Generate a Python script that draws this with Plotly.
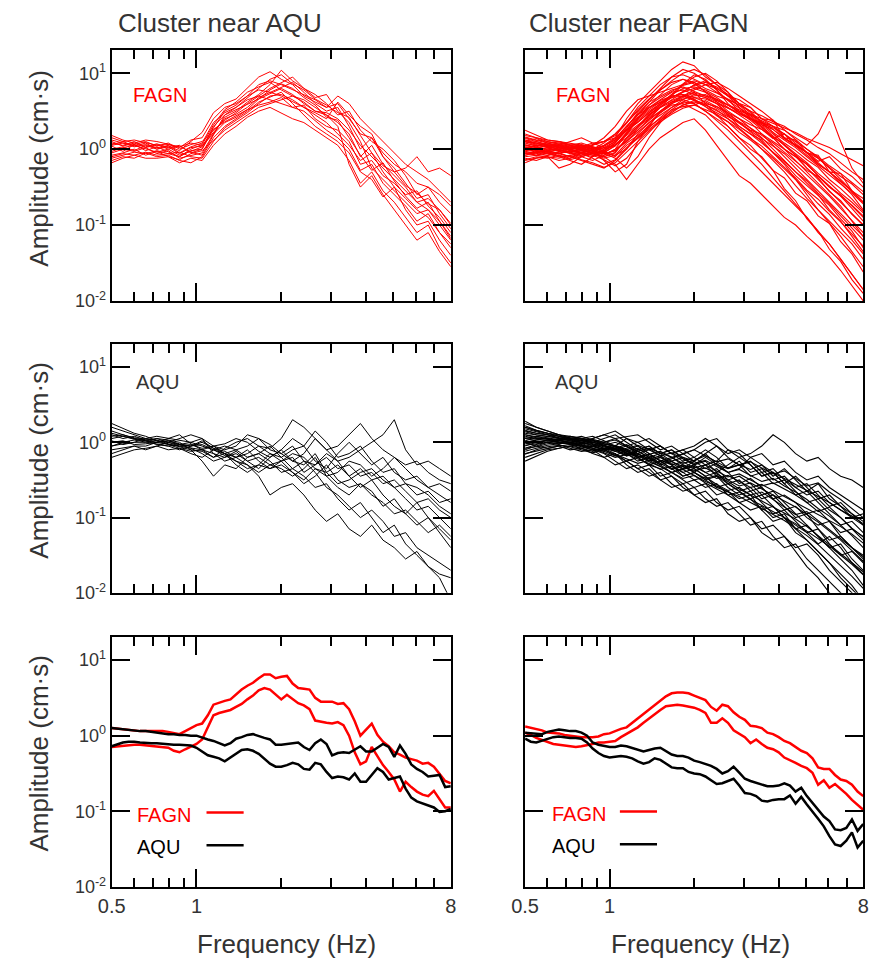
import math
import plotly.graph_objs as go

# frequency grid (Hz), log spaced 0.5 - 8
freq_fine = [0.500, 0.524, 0.548, 0.574, 0.601, 0.630, 0.660, 0.691, 0.723, 0.758,
             0.794, 0.831, 0.870, 0.912, 0.955, 1.000, 1.047, 1.097, 1.149, 1.203,
             1.260, 1.320, 1.382, 1.447, 1.516, 1.587, 1.663, 1.741, 1.824, 1.910,
             2.000, 2.095, 2.194, 2.297, 2.406, 2.520, 2.639, 2.764, 2.895, 3.031,
             3.175, 3.325, 3.482, 3.647, 3.820, 4.000, 4.190, 4.388, 4.595, 4.813,
             5.040, 5.278, 5.528, 5.790, 6.063, 6.350, 6.650, 6.965, 7.294, 7.639,
             8.000]
freq = freq_fine[::2]

# all amplitudes below are 100*log10(amplitude in cm.s)

# FAGN spectra, cluster near AQU
fagn_near_aqu = [
    [5, 8, 3, 6, 2, 4, -2, 10, 22, 48,  60, 66, 80, 95, 102, 92, 85, 70, 62, 55,  60, 40, 20, 15, -5, -20, -30, -45, -50, -60, -75],
    [-5, 0, -3, 2, -6, -2, -12, -8, -5, 20,  42, 50, 62, 72, 85, 104, 90, 80, 68, 72,  50, 35, 10, -25, -40, -55, -70, -85, -80, -100, -120],
    [15, 10, 12, 8, 5, 6, 2, 12, 15, 40,  55, 60, 70, 78, 75, 70, 62, 55, 48, 40,  62, 45, 30, 20, -10, -30, -25, -10, -30, -25, -35],
    [-15, -10, -12, -5, -10, -8, -15, -18, -10, 15,  30, 40, 50, 62, 68, 75, 60, 45, 30, 20,  10, -5, -30, -40, -63, -50, -80, -100, -95, -120, -140],
    [8, 5, 10, 3, 7, 2, 5, -5, 0, 30,  45, 52, 58, 65, 72, 80, 72, 60, 50, 45,  35, 20, -10, 5, -20, -35, -50, -70, -65, -80, -100],
    [-8, -5, 0, -8, -3, -10, -18, -12, -15, 5,  20, 30, 42, 50, 55, 48, 40, 35, 25, 15,  5, -15, -45, -30, -55, -70, -90, -110, -100, -130, -150],
    [0, 3, -2, 5, 0, 5, -5, 3, 8, 35,  48, 55, 65, 70, 80, 88, 95, 80, 72, 60,  45, 50, 25, 10, 0, -15, -35, -60, -50, -70, -85],
    [12, 8, 6, 10, 4, 8, 0, 6, 10, 25,  38, 48, 60, 70, 65, 60, 55, 58, 40, 30,  25, 10, -20, -15, -35, -45, -60, -55, -75, -90, -110],
    [-3, 2, 5, 0, -4, 0, -8, -3, 3, 28,  50, 58, 70, 85, 90, 85, 78, 72, 65, 55,  70, 60, 40, 25, 10, -5, -20, -30, -40, -55, -70],
    [18, 12, 8, 12, 10, 6, 3, 8, 5, 20,  35, 42, 52, 58, 62, 68, 55, 50, 38, 25,  15, 0, -28, -20, -45, -60, -75, -95, -85, -110, -130],
    [-18, -12, -8, -12, -12, -10, -14, -6, -2, 12,  25, 35, 45, 55, 60, 65, 70, 65, 55, 45,  30, -20, -50, -35, -60, -80, -100, -120, -110, -135, -155],
    [4, -3, 6, -2, 3, -4, -10, 0, 6, 32,  52, 62, 75, 82, 88, 78, 70, 62, 50, 48,  40, 25, 5, -10, -25, -40, -55, -70, -80, -95, -115],
    [-10, -6, -8, -4, -8, -6, -4, -10, -12, 10,  28, 38, 48, 60, 70, 72, 65, 55, 45, 35,  20, 5, -15, -5, -30, -50, -65, -80, -90, -110, -125],
    [6, 10, 4, 8, 0, 3, -6, 2, 4, 22,  40, 46, 55, 68, 75, 82, 88, 75, 60, 50,  55, 30, 0, 15, -10, -25, -45, -65, -60, -85, -105],
    [10, 4, 8, 2, 6, 0, 4, -4, -8, 18,  45, 55, 68, 80, 92, 98, 86, 78, 66, 58,  48, 42, 18, -5, -22, -30, -48, -58, -72, -80, -98],
    [-12, -8, -4, -6, -2, -6, -10, -2, 0, 26,  36, 44, 52, 66, 78, 86, 80, 68, 58, 42,  38, 15, -8, -28, -18, -42, -62, -78, -70, -95, -118],
]

# AQU spectra, cluster near AQU
aqu_near_aqu = [
    [20, 15, 10, 5, 2, 0, -5, -8, -10, -15,  -20, -12, -25, -20, -30, -25, -15, -20, -35, -40,  -30, -45, -35, -50, -45, -60, -55, -70, -65, -80, -75],
    [-5, -2, 0, 0, 5, 3, 0, -10, -25, -45,  -30, -35, -20, -15, -25, -40, -35, -45, -60, -55,  -75, -90, -80, -100, -120, -110, -135, -150, -165, -180, -210],
    [5, 8, 5, 3, 0, 2, -3, 0, 5, -5,  -10, -5, 10, 5, -10, -15, -5, -25, -30, -20,  -35, -30, -45, -40, -55, -50, -65, -80, -75, -90, -100],
    [-20, -15, -10, -8, -5, -10, -8, -15, -20, -10,  -15, -25, -30, -45, -70, -60, -55, -70, -90, -105,  -95, -115, -125, -110, -130, -140, -155, -145, -165, -175, -180],
    [10, 5, 8, 3, 5, 0, -3, -5, 2, -8,  -12, -20, -15, -5, -8, 5, 30, 20, 5, -10,  -5, 10, 25, 5, -10, -20, -30, -25, -40, -50, -55],
    [0, 2, -3, -2, 0, 5, 10, -2, -10, -20,  -15, -30, -40, -30, -35, -25, -20, -40, -30, -15,  -25, -45, -60, -50, -70, -85, -95, -80, -100, -115, -130],
    [15, 10, 5, 2, 0, -2, -5, -3, -8, -5,  -2, 5, 0, -12, -20, -10, 5, -5, -25, -35,  -15, 0, -15, -30, -20, -40, -50, -45, -60, -55, -65],
    [-10, -8, -5, -10, -5, 0, 5, 10, 5, -15,  -25, -20, -10, -25, -35, -30, -40, -55, -45, -30,  -50, -60, -55, -70, -80, -95, -90, -105, -120, -110, -125],
    [8, 10, 6, 4, 3, -2, -6, -10, -12, -20,  -8, 0, 5, -5, -15, -20, -10, -5, 15, 0,  -20, -15, -5, -25, -40, -35, -55, -60, -70, -85, -95],
    [-5, 0, 3, 0, -2, -5, -3, -8, -15, -25,  -20, -15, -25, -35, -20, -10, -25, -30, -15, -40,  -55, -50, -40, -35, -50, -60, -75, -90, -85, -100, -115],
    [25, 18, 12, 8, 2, -3, -8, -12, -10, -5,  -15, -10, -20, -15, -5, -20, -35, -25, -40, -60,  -70, -85, -100, -90, -105, -125, -120, -140, -150, -160, -170],
    [2, -3, 0, 5, 8, 5, 2, 0, -5, -10,  -5, -10, -5, 5, -3, -15, -25, -15, 5, -10,  -25, -20, -10, 0, 10, 30, -10, -30, -25, -35, -45],
    [-15, -10, -5, -5, 0, 2, -2, -5, -3, -10,  -18, -25, -35, -30, -15, -25, -40, -50, -35, -45,  -40, -25, -30, -45, -35, -20, -35, -50, -60, -70, -80],
    [12, 8, 4, 2, -3, -5, -10, -5, 0, -8,  -15, -20, -30, -40, -30, -35, -45, -35, -20, -45,  -60, -70, -55, -65, -85, -75, -95, -110, -100, -120, -140],
]

# FAGN spectra, cluster near FAGN
fagn_near_fagn = [
    [10, 5, 3, 0, 2, 5, 0, 8, 20, 35,  50, 65, 80, 95, 105, 100, 90, 80, 70, 60,  55, 40, 38, 15, 12, -5, -8, -30, -32, -55, -65],
    [-5, -8, -10, -12, -8, -5, -2, -15, -30, -20,  10, 30, 50, 62, 70, 75, 60, 45, 30, 15,  0, -10, -28, -38, -58, -68, -88, -98, -122, -138, -162],
    [20, 15, 10, 8, 5, 3, 0, 5, 15, 40,  60, 75, 90, 105, 115, 110, 95, 85, 75, 60,  50, 35, 22, 5, -8, -25, -38, -56, -68, -86, -100],
    [0, -3, -5, -10, -15, -20, -10, 0, 10, 25,  40, 55, 65, 75, 78, 72, 68, 60, 45, 30,  20, 12, -5, -18, -35, -48, -62, -74, -92, -108, -130],
    [-12, -15, -10, -25, -20, -10, -5, -10, -5, 15,  30, 45, 55, 62, 65, 60, 50, 40, 30, 15,  5, -12, -28, -52, -68, -92, -108, -132, -148, -172, -190],
    [8, 10, 5, 5, 0, -5, 5, 15, 30, 50,  65, 70, 75, 80, 85, 90, 85, 80, 70, 65,  55, 40, 30, 15, 5, -5, -20, -30, -45, -60, -80],
    [15, 12, 8, 3, 0, 2, -3, -8, 0, 10,  25, 40, 55, 70, 85, 95, 100, 90, 75, 55,  40, 30, 15, 0, -15, -30, -45, -60, -75, -95, -115],
    [-8, -5, 0, 5, 3, 0, -5, -10, -20, -40,  -20, 0, 15, 25, 35, 40, 25, 5, -15, -35,  -45, -60, -75, -90, -100, -115, -128, -142, -160, -180, -200],
    [5, 2, 0, -2, 0, 3, 8, 10, 15, 25,  35, 48, 60, 72, 80, 82, 78, 70, 65, 58,  45, 38, 30, 25, 15, 5, 20, 50, 10, -25, -45],
    [25, 18, 12, 10, 8, 5, 3, 0, 5, 20,  40, 58, 72, 85, 92, 88, 75, 62, 50, 40,  28, 15, 0, -15, -30, -45, -60, -80, -95, -115, -135],
    [-15, -12, -8, -5, -10, -15, -20, -25, -15, 0,  20, 35, 48, 58, 60, 52, 45, 30, 15, 0,  -15, -30, -45, -60, -75, -90, -110, -125, -145, -165, -185],
    [3, 0, -3, -5, -3, 0, 5, 10, 20, 35,  55, 70, 85, 95, 98, 92, 85, 75, 65, 50,  40, 28, 15, 0, -10, -20, -35, -50, -60, -75, -90],
    [10, 8, 4, 2, -2, -5, -8, -5, 5, 15,  25, 38, 50, 60, 70, 78, 85, 88, 80, 70,  60, 50, 38, 25, 12, 0, -12, -25, -40, -55, -70],
    [-10, -8, -5, -8, -12, -8, -3, 5, 12, 30,  45, 55, 62, 68, 70, 65, 58, 50, 42, 35,  25, 20, 10, 0, -10, -25, -40, -55, -70, -85, -100],
    [12, 8, 5, 8, 5, 8, 3, -3, -10, 5,  15, 28, 42, 55, 65, 72, 68, 60, 48, 35,  22, 10, -5, -20, -40, -60, -80, -95, -110, -125, -145],
    [-3, -5, -8, -3, -5, -10, -15, -8, 0, 20,  38, 50, 60, 68, 75, 80, 75, 65, 55, 45,  35, 20, 5, -10, -25, -40, -55, -70, -85, -100, -115],
    [18, 15, 12, 10, 5, 0, -5, -3, 8, 25,  45, 62, 78, 90, 100, 105, 98, 85, 70, 55,  42, 30, 18, 5, -8, -20, -35, -48, -62, -78, -95],
    [-6, -4, -2, 0, 2, 0, -2, -6, -2, 10,  22, 35, 45, 55, 62, 60, 50, 38, 25, 10,  -5, -20, -38, -55, -72, -90, -108, -125, -145, -165, -185],
    [2, 5, 8, 5, 10, 15, 8, 2, 5, 20,  32, 42, 55, 65, 75, 85, 90, 78, 60, 48,  40, 35, 30, 20, 8, -5, -18, -30, -42, -55, -70],
    [-18, -12, -10, -15, -12, -5, 0, -5, -12, -25,  -10, 15, 35, 50, 58, 62, 58, 52, 40, 28,  15, 0, -15, -30, -48, -65, -80, -98, -115, -135, -155],
    [6, 2, 4, 0, -4, -2, 2, -2, 8, 28,  48, 62, 70, 78, 82, 76, 70, 66, 58, 52,  44, 32, 20, 8, -2, -14, -24, -40, -52, -66, -82],
    [14, 10, 6, 4, 2, -2, -6, -12, -8, 8,  18, 30, 40, 52, 56, 58, 52, 46, 36, 26,  14, 4, -10, -24, -38, -54, -66, -82, -96, -112, -128],
    [0, 4, -2, 2, -4, 0, -6, -2, 6, 18,  30, 40, 50, 60, 66, 70, 72, 64, 58, 50,  46, 40, 34, 28, 22, 14, 8, 2, -6, -14, -22],
    [-4, -8, -2, -6, -10, -6, -12, -20, -14, 2,  14, 26, 38, 48, 58, 64, 60, 56, 48, 40,  32, 26, 14, 20, 4, -4, -16, -10, -26, -36, -50],
    [8, 4, 6, 2, 0, -4, -2, 4, 14, 30,  46, 58, 68, 76, 84, 88, 80, 74, 66, 58,  50, 44, 36, 30, 20, 12, 2, -6, -18, -30, -40],
    [-8, -4, -6, -10, -8, -14, -18, -24, -18, -4,  10, 24, 36, 46, 54, 58, 64, 56, 46, 36,  28, 18, 8, -4, -16, -28, -36, -50, -62, -74, -88],
    [16, 12, 10, 6, 4, 2, -2, -6, -2, 12,  28, 44, 58, 72, 86, 98, 92, 78, 64, 54,  46, 34, 22, 12, 2, -10, -22, -34, -46, -58, -72],
    [-2, 0, -4, -6, -2, -6, -10, -4, 4, 22,  40, 52, 62, 70, 72, 68, 62, 54, 44, 34,  24, 14, 4, -6, -20, -34, -48, -62, -78, -94, -110],
    [4, 8, 4, 6, 2, 6, 2, -4, -8, 0,  16, 32, 48, 60, 68, 74, 70, 62, 54, 46,  40, 32, 26, 14, 6, -4, -12, -24, -36, -46, -60],
    [-14, -10, -12, -8, -14, -10, -6, -10, -4, 14,  30, 46, 56, 64, 70, 64, 56, 44, 36, 22,  12, 0, -12, -26, -40, -56, -72, -86, -104, -120, -138],
    [12, 6, 2, 4, 0, 2, 6, 10, 18, 34,  52, 66, 78, 88, 92, 86, 76, 68, 58, 48,  38, 26, 16, 6, -6, -18, -32, -44, -58, -70, -84],
    [2, -2, -4, 0, -6, -4, -8, -14, -22, -12,  6, 22, 38, 52, 62, 68, 66, 60, 54, 48,  40, 34, 28, 20, 10, 0, -10, -22, -32, -44, -56],
    [-6, -2, 2, -2, -4, -8, -4, 2, 10, 26,  42, 54, 64, 70, 72, 66, 56, 48, 40, 30,  20, 8, -4, -16, -30, -42, -58, -72, -88, -104, -120],
    [10, 14, 8, 10, 6, 4, 0, 4, 12, 24,  36, 48, 58, 68, 76, 84, 88, 82, 72, 60,  48, 36, 26, 14, 4, -8, -20, -30, -42, -56, -70],
]

# AQU spectra, cluster near FAGN
aqu_near_fagn = [
    [25, 20, 15, 10, 5, 3, 0, 5, 10, 0,  -10, -5, -15, -10, -20, -25, -15, -30, -35, -25,  -40, -35, -50, -45, -60, -70, -65, -80, -90, -100, -110],
    [-10, -5, 0, -3, -8, -12, -10, -20, -30, -25,  -35, -45, -40, -55, -65, -60, -75, -85, -80, -95,  -110, -105, -125, -140, -135, -155, -170, -185, -200, -215, -230],
    [10, 8, 5, 2, 0, -2, 5, 10, 15, 5,  0, -10, -5, -15, -25, -20, -10, -20, -35, -30,  -45, -40, -35, -50, -60, -55, -70, -85, -80, -95, -105],
    [0, 3, 5, 0, -3, -5, -8, -12, -18, -10,  -20, -30, -25, -35, -45, -40, -50, -45, -60, -70,  -65, -80, -95, -90, -105, -120, -115, -135, -150, -145, -160],
    [20, 15, 12, 8, 5, 0, -5, -10, -8, -15,  -25, -20, -30, -40, -35, -25, -15, -5, -20, -30,  -25, -40, -55, -50, -65, -80, -75, -90, -100, -115, -125],
    [-20, -15, -10, -8, -5, -2, 0, -3, -5, -15,  -10, -5, -15, -25, -20, -30, -40, -35, -50, -45,  -55, -70, -65, -80, -95, -110, -125, -140, -155, -170, -190],
    [15, 12, 10, 5, 2, 0, 2, 0, 5, 8,  10, 0, -10, -5, -15, -10, 0, 5, -10, -20,  -15, -5, 10, 0, -15, -25, -20, -35, -45, -50, -60],
    [5, 2, 0, -2, 0, -5, -10, -15, -25, -35,  -30, -40, -50, -45, -60, -70, -65, -80, -90, -85,  -100, -115, -110, -125, -140, -135, -150, -170, -185, -200, -220],
    [-5, 0, 3, 5, 8, 5, 0, -5, -8, -3,  -12, -20, -15, -10, -22, -30, -25, -40, -30, -20,  -30, -45, -40, -55, -70, -65, -80, -95, -110, -105, -120],
    [28, 20, 15, 10, 8, 5, 3, -2, -5, -10,  -5, -15, -25, -20, -30, -35, -45, -40, -55, -65,  -60, -75, -70, -85, -100, -95, -115, -130, -125, -140, -155],
    [-15, -12, -8, -5, -3, -8, -15, -20, -15, -25,  -35, -30, -45, -40, -50, -60, -55, -70, -65, -80,  -90, -85, -100, -95, -115, -130, -145, -160, -175, -190, -210],
    [8, 5, 5, 3, 0, 3, 5, 10, 5, -5,  -15, -10, -5, -15, -10, -5, 5, -5, -15, -10,  -20, -15, -30, -25, -40, -50, -45, -60, -70, -80, -90],
    [0, -5, -8, -5, -10, -8, -5, 0, 3, -5,  -15, -25, -20, -30, -45, -40, -30, -45, -55, -50,  -65, -60, -75, -90, -85, -100, -110, -105, -125, -140, -150],
    [18, 14, 10, 6, 3, 0, -3, -8, -10, -18,  -15, -22, -30, -25, -35, -30, -20, -30, -40, -35,  -20, -30, -45, -35, -50, -65, -55, -75, -85, -95, -110],
    [-25, -18, -12, -8, -5, -8, -12, -8, -15, -30,  -40, -35, -50, -60, -55, -70, -80, -75, -95, -105,  -100, -120, -130, -125, -145, -165, -180, -200, -215, -230, -250],
    [12, 10, 8, 5, 3, 5, 8, 2, -5, -12,  -8, -18, -28, -22, -15, -25, -35, -28, -40, -55,  -48, -60, -75, -70, -80, -95, -90, -105, -120, -115, -130],
    [-8, -3, 0, 2, 0, -3, -8, -12, -5, 5,  -5, -15, -25, -35, -30, -40, -50, -60, -55, -65,  -75, -70, -85, -100, -115, -110, -125, -140, -135, -155, -170],
    [22, 16, 12, 8, 4, 2, -2, -6, -10, -5,  0, 5, -5, -15, -10, -20, -30, -25, -10, -15,  -30, -45, -40, -55, -45, -60, -75, -70, -85, -100, -95],
    [-2, 0, 2, 0, -2, 0, -4, -10, -18, -25,  -20, -30, -35, -45, -55, -50, -60, -55, -70, -80,  -75, -90, -85, -100, -110, -120, -135, -125, -140, -160, -175],
    [5, 8, 6, 3, 5, 8, 3, -5, -12, -18,  -12, -8, -18, -30, -40, -35, -45, -60, -65, -75,  -70, -90, -105, -100, -120, -130, -145, -160, -180, -195, -210],
    [14, 10, 8, 6, 4, 2, 0, -4, -8, -14,  -18, -24, -20, -28, -36, -32, -40, -48, -44, -52,  -60, -56, -64, -72, -80, -88, -96, -104, -112, -122, -134],
    [-12, -8, -4, -2, 0, -4, -8, -14, -20, -16,  -22, -28, -36, -32, -40, -50, -46, -56, -64, -60,  -70, -78, -86, -94, -102, -112, -124, -136, -148, -160, -172],
    [6, 4, 2, 4, 2, -2, -6, -4, 0, -6,  -12, -8, -14, -20, -16, -10, -18, -26, -22, -30,  -36, -30, -40, -48, -56, -64, -72, -80, -90, -98, -108],
    [20, 16, 12, 10, 6, 4, 2, -2, -6, -12,  -16, -22, -18, -26, -32, -38, -34, -42, -50, -58,  -54, -62, -70, -78, -86, -96, -106, -118, -130, -144, -158],
    [-4, -2, 0, 2, 4, 2, -2, -8, -12, -8,  -4, -10, -18, -14, -22, -28, -24, -32, -40, -36,  -44, -52, -48, -58, -66, -76, -88, -98, -110, -124, -140],
    [10, 6, 4, 0, -2, -6, -10, -8, -4, -10,  -18, -26, -32, -40, -36, -44, -52, -58, -66, -72,  -80, -88, -96, -104, -114, -124, -136, -150, -164, -178, -194],
    [-16, -10, -6, -4, -6, -10, -14, -10, -6, -12,  -20, -16, -24, -30, -26, -34, -30, -38, -46, -42,  -50, -58, -54, -62, -70, -80, -92, -86, -100, -114, -126],
    [2, 6, 4, 2, 0, 2, 4, 0, -6, -14,  -20, -16, -12, -20, -28, -24, -18, -26, -34, -30,  -26, -34, -42, -38, -48, -58, -54, -66, -76, -88, -100],
    [16, 12, 10, 8, 6, 4, 0, -4, -10, -16,  -12, -20, -28, -36, -32, -40, -48, -44, -52, -62,  -70, -66, -76, -86, -96, -92, -104, -116, -128, -140, -152],
    [-8, -6, -2, 0, -2, -4, -6, -10, -16, -22,  -28, -24, -32, -40, -48, -44, -54, -62, -70, -66,  -76, -84, -92, -100, -108, -118, -128, -138, -150, -162, -176],
]

# averaged spectra (two bounds each), cluster near AQU
avg_aqu_fagn_hi = [10, 9, 8, 7, 6, 6, 6, 6, 6, 6,  5, 3, 2, 6, 10, 14, 16, 27, 41, 44,
                   46, 48, 55, 61, 66, 70, 76, 81, 81, 76,  78, 79, 69, 63, 62, 61, 50, 45, 45, 45,
                   42, 43, 35, 19, 0, 8, 16, 1, -8, -14,  -22, -25, -29, -31, -33, -37, -36, -41, -50, -60,
                   -63]
avg_aqu_fagn_lo = [-15, -14, -13, -13, -12, -12, -13, -13, -14, -15,  -16, -20, -22, -18, -14, -11, -5, 10, 27, 30,
                   32, 34, 38, 42, 48, 53, 60, 63, 61, 54,  48, 54, 48, 43, 40, 35, 20, 18, 17, 16,
                   18, 14, 0, -22, -38, -34, -15, -27, -39, -48,  -58, -74, -61, -68, -74, -78, -80, -73, -84, -95,
                   -95]
avg_aqu_aqu_hi = [10, 9, 9, 8, 7, 6, 6, 5, 4, 3,  2, 2, 1, 1, 0, 0, -3, -5, -7, -10,
                  -13, -10, -4, -2, 1, 2, -1, -3, -5, -12,  -12, -11, -10, -9, -15, -19, -10, -5, -11, -26,
                  -23, -22, -23, -19, -14, -21, -21, -16, -11, -15,  -28, -13, -24, -38, -44, -48, -54, -53, -52, -68,
                  -67]
avg_aqu_aqu_lo = [-14, -11, -9, -8, -8, -9, -10, -10, -10, -11,  -11, -12, -12, -12, -13, -16, -21, -26, -28, -30,
                  -34, -29, -24, -19, -18, -20, -24, -30, -37, -41,  -41, -39, -36, -38, -44, -45, -36, -38, -48, -56,
                  -54, -55, -58, -50, -61, -61, -52, -43, -48, -58,  -56, -54, -70, -82, -87, -90, -92, -95, -101, -100,
                  -97]

# averaged spectra (two bounds each), cluster near FAGN
avg_fagn_fagn_hi = [12, 10, 8, 7, 4, 3, 3, 1, 0, -1,  -2, -2, -2, -1, 2, 3, 6, 9, 11, 17,
                    23, 29, 35, 41, 47, 52, 56, 57, 57, 56,  53, 50, 47, 38, 33, 41, 39, 31, 25, 21,
                    13, 12, 10, 4, 2, -2, -7, -10, -15, -20,  -23, -30, -42, -44, -44, -52, -58, -60, -65, -74,
                    -80]
avg_fagn_fagn_lo = [4, 1, -3, -6, -9, -11, -12, -13, -14, -15,  -14, -13, -11, -9, -9, -8, -7, -2, 2, 7,
                    11, 17, 23, 28, 34, 39, 40, 41, 40, 39,  37, 34, 30, 17, 17, 23, 17, 7, 2, -2,
                    -10, -5, -11, -16, -18, -22, -29, -32, -36, -40,  -43, -49, -65, -59, -69, -64, -70, -77, -85, -91,
                    -98]
avg_fagn_aqu_hi = [4, 3, 2, 2, 5, 7, 8, 7, 6, 6,  4, 0, -9, -12, -14, -15, -15, -13, -14, -16,
                   -19, -21, -19, -17, -16, -20, -25, -27, -27, -29,  -33, -35, -37, -40, -44, -50, -47, -41, -49, -57,
                   -60, -62, -64, -67, -67, -66, -63, -66, -74, -69,  -80, -89, -99, -107, -113, -124, -125, -122, -111, -126,
                   -117]
avg_fagn_aqu_lo = [-4, -8, -9, -7, -4, -2, -1, -2, -3, -3,  -4, -9, -17, -23, -27, -29, -28, -27, -28, -30,
                   -34, -37, -35, -30, -32, -37, -42, -43, -43, -48,  -50, -51, -54, -59, -64, -63, -60, -57, -66, -76,
                   -77, -80, -86, -87, -85, -84, -84, -79, -90, -81,  -91, -100, -110, -120, -133, -144, -146, -139, -128, -148,
                   -139]

RED = '#ff0000'
GREY = '#333333'
FONT = 'Arial, Liberation Sans, sans-serif'
W, H = 878, 976


def amp(vals):
    return [10 ** (v / 100) for v in vals]


def ax(n):
    return '' if n == 1 else str(n)


fig = go.Figure()

dense = [(1, fagn_near_aqu, RED, 1), (2, fagn_near_fagn, RED, 1.1),
         (3, aqu_near_aqu, 'black', 1), (4, aqu_near_fagn, 'black', 1.1)]
for n, curves, col, lw in dense:
    for c in curves:
        fig.add_trace(go.Scatter(x=freq, y=amp(c), mode='lines',
                                 line=dict(color=col, width=lw),
                                 xaxis='x' + ax(n), yaxis='y' + ax(n),
                                 showlegend=False, hoverinfo='skip'))

means = [(5, avg_aqu_fagn_hi, RED), (5, avg_aqu_fagn_lo, RED),
         (5, avg_aqu_aqu_hi, 'black'), (5, avg_aqu_aqu_lo, 'black'),
         (6, avg_fagn_fagn_hi, RED), (6, avg_fagn_fagn_lo, RED),
         (6, avg_fagn_aqu_hi, 'black'), (6, avg_fagn_aqu_lo, 'black')]
for n, c, col in means:
    fig.add_trace(go.Scatter(x=freq_fine, y=amp(c), mode='lines',
                             line=dict(color=col, width=2.5),
                             xaxis='x' + ax(n), yaxis='y' + ax(n),
                             showlegend=False, hoverinfo='skip'))

col_dom = [[100 / W, 447 / W], [523 / W, 869 / W]]
row_dom = [[1 - 304 / H, 1 - 51 / H], [1 - 599 / H, 1 - 348 / H], [1 - 896 / H, 1 - 644 / H]]

layout = dict(width=W, height=H, margin=dict(l=0, r=0, t=0, b=0),
              paper_bgcolor='white', plot_bgcolor='white', showlegend=False,
              font=dict(family=FONT, color=GREY))

for n in range(1, 7):
    row, col = (n - 1) // 2, (n - 1) % 2
    layout['xaxis' + ax(n)] = dict(
        type='log', range=[math.log10(0.5), math.log10(8)],
        domain=col_dom[col], anchor='y' + ax(n),
        showline=True, linecolor='black', linewidth=2, mirror='allticks',
        ticks='inside', ticklen=18, tickwidth=2, tickcolor='black',
        tickmode='array', tickvals=[0.5, 1, 8], ticktext=['0.5', '1', '8'],
        showticklabels=(row == 2), tickfont=dict(size=20, color=GREY),
        minor=dict(tickmode='array', tickvals=[0.6, 0.7, 0.8, 0.9, 2, 3, 4, 5, 6, 7],
                   ticks='inside', ticklen=9, tickwidth=2, tickcolor='black', showgrid=False),
        showgrid=False, zeroline=False)
    layout['yaxis' + ax(n)] = dict(
        type='log', range=[-2, 1.3],
        domain=row_dom[row], anchor='x' + ax(n),
        showline=True, linecolor='black', linewidth=2, mirror='allticks',
        ticks='inside', ticklen=18, tickwidth=2, tickcolor='black',
        tickmode='array', tickvals=[0.01, 0.1, 1, 10],
        ticktext=['10<sup>-2</sup>', '10<sup>-1</sup>', '10<sup>0</sup>', '10<sup>1</sup>'],
        showticklabels=(col == 0), tickfont=dict(size=18, color=GREY),
        showgrid=False, zeroline=False)


def note(text, x, y, size=20, color=GREY, xanchor='left', angle=0):
    return dict(text=text, x=x / W, y=1 - y / H, xref='paper', yref='paper',
                xanchor=xanchor, yanchor='middle', showarrow=False, textangle=angle,
                font=dict(size=size, color=color, family=FONT))


annotations = [
    note('Cluster near AQU', 104, 23, size=26),
    note('Cluster near FAGN', 525, 23, size=26),
    note('FAGN', 120, 96, color=RED),
    note('FAGN', 553, 96, color=RED),
    note('AQU', 123, 386),
    note('AQU', 552, 386),
    note('FAGN', 124, 823, color=RED),
    note('AQU', 124, 856, color='black'),
    note('FAGN', 549, 822, color=RED),
    note('AQU', 549, 855, color='black'),
    note('Frequency (Hz)', 279, 954, size=26, xanchor='center'),
    note('Frequency (Hz)', 702, 954, size=26, xanchor='center'),
]
for yc in [170, 465, 761]:
    annotations.append(note('Amplitude (cm·s)', 26, yc, size=26, xanchor='center', angle=-90))
layout['annotations'] = annotations

# legend keys in the bottom panels
shapes = []
for x0, x1, y, col in [(197, 235, 821, RED), (197, 235, 854, 'black'),
                       (620, 658, 820, RED), (620, 658, 853, 'black')]:
    shapes.append(dict(type='line', xref='paper', yref='paper',
                       x0=x0 / W, x1=x1 / W, y0=1 - y / H, y1=1 - y / H,
                       line=dict(color=col, width=2.5)))
layout['shapes'] = shapes

fig.update_layout(layout)
# page without body margin / scrollbars so the figure sits at the window origin
fig.write_html("out.html", config={'responsive': False, 'displayModeBar': False},
               post_script="document.body.style.margin='0';document.body.style.overflow='hidden';")
